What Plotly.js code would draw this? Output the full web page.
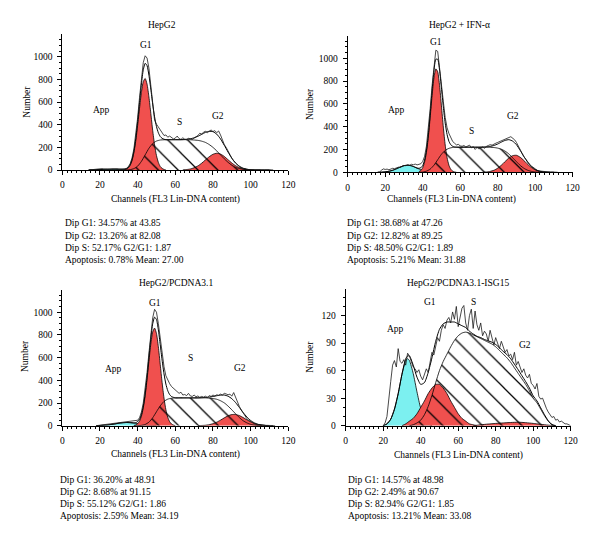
<!DOCTYPE html>
<html><head><meta charset="utf-8">
<script src="https://cdn.plot.ly/plotly-3.0.1.min.js"></script>
<style>html,body{margin:0;padding:0;background:#fff}#chart{width:600px;height:543px}</style>
</head><body><div id="chart"></div>
<script>
// ---------- text ----------
const panelTitles = ['HepG2', 'HepG2 + IFN-\u03b1', 'HepG2/PCDNA3.1', 'HepG2/PCDNA3.1-ISG15'];
const xAxisTitle = 'Channels (FL3 Lin-DNA content)';
const yAxisTitle = 'Number';
const phaseLabels = ['G1', 'App', 'S', 'G2'];
const stats1 = ['Dip G1: 34.57% at 43.85', 'Dip G2: 13.26% at 82.08', 'Dip S: 52.17% G2/G1: 1.87', 'Apoptosis: 0.78% Mean: 27.00'];
const stats2 = ['Dip G1: 38.68% at 47.26', 'Dip G2: 12.82% at 89.25', 'Dip S: 48.50% G2/G1: 1.89', 'Apoptosis: 5.21% Mean: 31.88'];
const stats3 = ['Dip G1: 36.20% at 48.91', 'Dip G2: 8.68% at 91.15', 'Dip S: 55.12% G2/G1: 1.86', 'Apoptosis: 2.59% Mean: 34.19'];
const stats4 = ['Dip G1: 14.57% at 48.98', 'Dip G2: 2.49% at 90.67', 'Dip S: 82.94% G2/G1: 1.85', 'Apoptosis: 13.21% Mean: 33.08'];

// ---------- panel 1: HepG2 ----------
const p1AppX = [14,16,18,20,22,24,26,28,30,32,34,36,38,40,42];
const p1AppY = [0,1.5,3,4,6,7,8,8,7,6,4,3,2,1,0];
const p1G1X = [33,34,35,36,37,38,39,40,41,42,43,44,45,46,47,48,49,50,51,52,53,54,55];
const p1G1Y = [3,7,18,40,82,152,256,394,545,685,782,809,759,646,500,349,222,128,67,31,14,5,0];
const p1SX = [34,36,38,40,42,44,46,48,50,52,54,56,58,60,62,64,66,68,70,72,74,76,78,80,82,84,86,88,90,92,94,96,98,100];
const p1SY = [0,3,12,34,76,134,192,234,256,265,267,268,268,268,268,268,268,267,265,262,255,244,225,200,169,134,99,68,43,24,13,6,3,0];
const p1G2X = [64,66,68,70,72,74,76,78,80,82,84,86,88,90,92,94,96,98,100,102];
const p1G2Y = [1,4,9,20,36,60,89,117,139,148,141,120,91,62,38,21,10,4,2,0];
const p1FitX = [14,16,18,20,22,24,26,28,30,32,33,34,35,36,37,38,39,40,41,42,43,44,45,46,47,48,49,50,51,52,53,54,55,56,58,60,62,64,66,68,70,72,74,76,78,80,82,84,86,88,90,92,94,96,98,100,102,106,110];
const p1FitY = [0,1.5,3,4,6,7,8,8,7,6,8,12,22,46,90,166,277,429,597,761,886,943,923,838,715,583,470,384,329,296,280,272,268,268,268,268,268,269,272,276,285,298,315,333,342,339,317,275,219,159,105,62,34,16,7,2,0,0,0];
const p1RawStart = 14;
const p1RawY = [0,2,3,5,8,12,15,12,8,5,6,4,5,7,6,8,6,5,7,9,14,28,55,105,185,300,460,640,810,950,1010,990,900,740,560,440,405,380,345,325,305,310,290,300,285,275,282,300,278,270,285,272,268,280,275,270,282,290,305,325,318,335,342,330,345,354,340,348,330,345,310,260,225,200,165,130,104,80,60,42,29,18,12,8,6,4,5,3,4,6,3,4,2,3,2,3,1,2,0];

// ---------- panel 2: HepG2 + IFN-a ----------
const p2AppX = [16,18,20,22,24,26,28,30,32,34,36,38,40,42,44,46,48];
const p2AppY = [0,1,4,9,18,31,46,58,62,57,44,29,17,8,3,1,0];
const p2G1X = [38,39,40,41,42,43,44,45,46,47,48,49,50,51,52,53,54,55,56,57,58];
const p2G1Y = [6,16,40,89,176,309,484,672,828,906,881,760,582,396,239,128,61,26,10,3,0];
const p2SX = [38,40,42,44,46,48,50,52,54,56,58,60,62,64,66,68,70,72,74,76,78,80,82,84,86,88,90,92,94,96,98,100,102,104];
const p2SY = [0,2,10,28,62,110,158,192,210,218,220,220,220,220,220,220,220,220,220,219,217,212,202,185,160,127,93,60,35,18,8,3,1,0];
const p2G2X = [72,74,76,78,80,82,84,86,88,90,92,94,96,98,100,102,104,106,108];
const p2G2Y = [1,3,8,18,36,63,95,126,146,149,132,103,70,42,22,10,4,1,0];
const p2FitX = [16,18,20,22,24,26,28,30,32,34,36,37,38,39,40,41,42,43,44,45,46,47,48,49,50,51,52,53,54,55,56,57,58,60,62,64,66,68,70,72,74,76,78,80,82,84,86,88,90,92,94,96,98,100,102,104,106,108,110];
const p2FitY = [0,1,4,9,18,31,46,58,62,57,44,37,35,40,59,106,194,331,515,717,891,991,991,895,740,573,431,331,271,241,228,222,220,220,220,220,220,220,220,221,223,227,235,248,265,280,286,273,242,192,138,88,50,25,11,4,1,0,0];
const p2RawStart = 16;
const p2RawY = [0,2,18,30,25,28,22,30,35,32,40,45,42,55,60,58,65,62,70,66,72,65,70,75,95,140,230,370,560,760,930,1070,1060,930,770,620,480,390,340,305,270,255,240,245,232,228,235,222,230,238,215,225,200,218,205,215,222,210,228,235,242,238,250,255,262,270,275,288,292,300,305,312,300,285,262,230,195,160,135,115,90,70,55,40,25,18,12,10,6,5,4,3,2,3,1,2,0];

// ---------- panel 3: HepG2/PCDNA3.1 ----------
const p3AppX = [18,20,22,24,26,28,30,32,34,36,38,40,42,44,46,48,50];
const p3AppY = [0,2,4,7,11,16,22,26,28,27,23,18,12,7,4,2,0];
const p3G1X = [38,39,40,41,42,43,44,45,46,47,48,49,50,51,52,53,54,55,56,57,58,59,60];
const p3G1Y = [2,7,18,40,83,157,265,408,569,720,826,860,812,695,539,380,243,141,74,35,15,6,0];
const p3SX = [38,40,42,44,46,48,50,52,54,56,58,60,62,64,66,68,70,72,74,76,78,80,82,84,86,88,90,92,94,96,98,100,102,104,106];
const p3SY = [0,0,3,11,31,70,123,175,214,234,242,245,245,245,245,245,245,245,245,245,243,239,233,220,201,173,140,105,72,44,25,12,6,2,0];
const p3G2X = [72,74,76,78,80,82,84,86,88,90,92,94,96,98,100,102,104,106,108,110];
const p3G2Y = [0,2,4,9,18,31,49,69,87,98,99,89,72,52,34,19,10,5,2,0];
const p3FitX = [18,20,22,24,26,28,30,32,34,36,38,39,40,41,42,43,44,45,46,47,48,49,50,51,52,53,54,55,56,57,58,59,60,62,64,66,68,70,72,74,76,78,80,82,84,86,88,90,92,94,96,98,100,102,104,106,108,110,112];
const p3FitY = [0,2,4,7,11,16,22,26,28,27,25,27,36,56,98,172,283,432,604,771,898,956,935,845,714,577,457,367,308,274,257,250,245,245,245,245,245,245,245,247,249,252,257,264,269,270,260,238,204,161,116,77,46,25,12,5,2,0,0];
const p3RawStart = 18;
const p3RawY = [0,2,4,6,10,12,14,16,18,20,22,25,28,30,32,34,36,36,38,38,40,42,48,70,120,200,320,470,640,810,950,1025,1000,900,760,620,520,440,400,370,345,330,310,300,285,295,270,275,265,285,262,258,270,255,262,250,258,252,260,248,265,258,270,262,272,268,278,270,285,280,272,278,260,292,250,205,170,140,112,85,62,48,36,26,18,12,9,6,5,4,3,3,2,2,1,0];

// ---------- panel 4: HepG2/PCDNA3.1-ISG15 ----------
const p4AppX = [20,22,24,26,28,30,32,33,34,36,38,40,42,44,46];
const p4AppY = [0,2,7,18,35,56,71,73,71,57,37,19,8,2,0];
const p4G1X = [30,32,34,36,38,40,42,44,46,48,50,52,54,56,58,60,62,64,66,68,70];
const p4G1Y = [0,2,5,8,13,20,27,35,41,45,45,41,35,27,20,13,8,5,2,1,0];
const p4SX = [34,36,38,40,42,44,46,48,50,52,54,56,58,60,62,64,66,68,70,72,74,76,78,80,82,84,86,88,90,92,94,96,98,100,102,104,106,108,110,112];
const p4SY = [0,1,3,6,12,21,33,47,60,70,78,86,93,98,101,102,101,99,97,95,93,91,89,86,82,78,74,69,63,57,51,45,38,30,25,18,11,5,1,0];
const p4G2X = [68,72,76,80,84,88,92,96,100,104,108,112];
const p4G2Y = [0,1,1.8,2.5,3,3.5,3.8,3.3,2.5,1.5,0.6,0];
const p4FitX = [20,22,24,26,28,30,32,33,34,36,38,40,42,44,46,48,50,52,54,56,58,60,62,64,66,68,70,72,74,76,78,80,82,84,86,88,90,92,94,96,98,100,102,104,106,108,110,112];
const p4FitY = [0,2,7,18,35,56,73,76,76,66,53,45,47,58,74,92,105,111,113,113,113,111,109,107,103,100,97.5,96,94,92.5,91,88.5,85,81,77.5,73,67,61,54.5,48,41,32.5,27,19.5,12,5.5,1.3,0];
const p4RawStart = 20;
const p4RawY = [0,3,10,26,48,66,71,64,84,70,68,72,66,79,76,70,64,62,58,61,54,50,57,62,58,70,80,77,88,96,92,104,110,106,115,118,112,124,116,130,108,118,128,131,112,104,120,127,106,125,110,104,112,98,103,100,92,104,94,88,96,90,84,92,86,80,83,76,78,72,80,66,70,64,58,62,55,52,56,46,44,40,46,32,29,30,24,19,15,12,9,10,6,7,4,5,3,2,2,1,0];

// ---------- axis ticks ----------
const xTickStep = 20;
const yTickStepBig = 200;
const yTickStepSmall = 30;

// ---------- styling ----------
const FONT = '"Liberation Serif","Times New Roman",serif';
const FS = 9.5;
const RED = 'rgb(240,80,78)';
const CYAN = 'rgb(124,240,240)';

function channels(start, n) { const a = []; for (let i = 0; i < n; i++) a.push(start + i); return a; }

const panels = [
  {appX:p1AppX, appY:p1AppY, g1X:p1G1X, g1Y:p1G1Y, sX:p1SX, sY:p1SY, g2X:p1G2X, g2Y:p1G2Y, fitX:p1FitX, fitY:p1FitY, rawX:channels(p1RawStart, p1RawY.length), rawY:p1RawY},
  {appX:p2AppX, appY:p2AppY, g1X:p2G1X, g1Y:p2G1Y, sX:p2SX, sY:p2SY, g2X:p2G2X, g2Y:p2G2Y, fitX:p2FitX, fitY:p2FitY, rawX:channels(p2RawStart, p2RawY.length), rawY:p2RawY},
  {appX:p3AppX, appY:p3AppY, g1X:p3G1X, g1Y:p3G1Y, sX:p3SX, sY:p3SY, g2X:p3G2X, g2Y:p3G2Y, fitX:p3FitX, fitY:p3FitY, rawX:channels(p3RawStart, p3RawY.length), rawY:p3RawY},
  {appX:p4AppX, appY:p4AppY, g1X:p4G1X, g1Y:p4G1Y, sX:p4SX, sY:p4SY, g2X:p4G2X, g2Y:p4G2Y, fitX:p4FitX, fitY:p4FitY, rawX:channels(p4RawStart, p4RawY.length), rawY:p4RawY}
];

const data = [];
panels.forEach((p, i) => {
  const xa = i === 0 ? 'x' : 'x' + (i + 1);
  const ya = i === 0 ? 'y' : 'y' + (i + 1);
  const comp = (x, y, fc) => ({type:'scatter', mode:'lines', x:x, y:y, xaxis:xa, yaxis:ya, fill:'tozeroy', fillcolor:fc,
    line:{color:'black', width:0.8, shape:'spline', smoothing:0.6}, hoverinfo:'skip'});
  data.push(comp(p.appX, p.appY, CYAN));
  data.push(comp(p.g1X, p.g1Y, RED));
  data.push(comp(p.g2X, p.g2Y, RED));
  const s = comp(p.sX, p.sY, 'white');
  s.fillpattern = {shape:'\\', size:14, solidity:0.09, fgcolor:'black', fillmode:'replace'};
  data.push(s);
  data.push({type:'scatter', mode:'lines', x:p.fitX, y:p.fitY, xaxis:xa, yaxis:ya, line:{color:'black', width:1, shape:'spline', smoothing:0.6}, hoverinfo:'skip'});
  data.push({type:'scatter', mode:'lines', x:p.rawX, y:p.rawY, xaxis:xa, yaxis:ya, line:{color:'#1a1a1a', width:0.8}, hoverinfo:'skip'});
});

function xAx(domain, anchor) {
  return {domain:domain, anchor:anchor, range:[0,120], showline:true, linecolor:'black', linewidth:1,
    ticks:'outside', ticklen:4, tickwidth:1, tickcolor:'black', tickmode:'linear', tick0:0, dtick:xTickStep,
    showgrid:false, zeroline:false, ticklabelstandoff:2, tickfont:{family:FONT, size:FS, color:'black'},
    minor:{tickmode:'linear', tick0:0, dtick:2.5, ticks:'outside', ticklen:2, tickwidth:1, tickcolor:'black', showgrid:false},
    fixedrange:true};
}
function yAx(domain, anchor, top, step, minorStep) {
  return {domain:domain, anchor:anchor, range:[0,top], showline:true, linecolor:'black', linewidth:1,
    ticks:'outside', ticklen:4, tickwidth:1, tickcolor:'black', tickmode:'linear', tick0:0, dtick:step,
    showgrid:false, zeroline:false, ticklabelstandoff:3, tickfont:{family:FONT, size:FS, color:'black'},
    minor:{tickmode:'linear', tick0:0, dtick:minorStep, ticks:'outside', ticklen:2, tickwidth:1, tickcolor:'black', showgrid:false},
    fixedrange:true};
}

const W = 600, H = 543;
const px = v => v / W, py = v => 1 - v / H;

const annotations = [];
function addText(text, x, y, opts) {
  annotations.push(Object.assign({text:text, x:x, y:y, xref:'paper', yref:'paper', showarrow:false,
    xanchor:'center', yanchor:'middle', font:{family:FONT, size:FS, color:'black'}}, opts || {}));
}
const titlePos = [[161.7,25.3],[459,25],[175.8,283.3],[458,282.7]];
panelTitles.forEach((t, i) => addText(t, px(titlePos[i][0]), py(titlePos[i][1])));
const xTitlePos = [[175,200],[451.7,200],[175.3,454.5],[458.5,455]];
xTitlePos.forEach(p => addText(xAxisTitle, px(p[0]), py(p[1])));
const yTitlePos = [[26.7,102],[310,104],[25,356],[310,356.7]];
yTitlePos.forEach(p => addText(yAxisTitle, px(p[0]), py(p[1]), {textangle:-90}));
const statsBlocks = [[stats1, 63.3, [223.3,235.6,248,260.3]], [stats2, 345, [223.3,235.6,248,260.3]],
                     [stats3, 58.3, [480,492,504,516]], [stats4, 345.7, [480,492,504,516]]];
statsBlocks.forEach(b => b[0].forEach((line, j) => addText(line, px(b[1]), py(b[2][j]), {xanchor:'left'})));
const labelPos = [
  [[44.3,1106],[20.9,531],[62,427],[82.8,480]],
  [[47.1,1140],[26.1,546],[66.1,362],[88,496]],
  [[49.2,1085],[27.1,497],[68.3,594],[94.4,506]],
  [[45,135],[26.3,105.7],[68,135],[95.6,88.5]]
];
labelPos.forEach((lp, i) => {
  const xr = i === 0 ? 'x' : 'x' + (i + 1), yr = i === 0 ? 'y' : 'y' + (i + 1);
  lp.forEach((pos, j) => annotations.push({text:phaseLabels[j], x:pos[0], y:pos[1], xref:xr, yref:yr, showarrow:false,
    xanchor:'center', yanchor:'middle', font:{family:FONT, size:FS, color:'black'}}));
});

const layout = {
  width:W, height:H, margin:{l:0, r:0, t:0, b:0}, showlegend:false,
  paper_bgcolor:'white', plot_bgcolor:'rgba(0,0,0,0)',
  font:{family:FONT, size:FS, color:'black'},
  xaxis: xAx([px(62.3), px(288.3)], 'y'),
  yaxis: yAx([py(170), py(34.4)], 'x', 1199, yTickStepBig, 50),
  xaxis2: xAx([px(347.7), px(572.7)], 'y2'),
  yaxis2: yAx([py(172.3), py(35.5)], 'x2', 1199, yTickStepBig, 50),
  xaxis3: xAx([px(62.3), px(288.3)], 'y3'),
  yaxis3: yAx([py(425.7), py(289.6)], 'x3', 1199, yTickStepBig, 50),
  xaxis4: xAx([px(345.7), px(570.7)], 'y4'),
  yaxis4: yAx([py(425.7), py(289)], 'x4', 149, yTickStepSmall, 10),
  annotations:annotations
};

Plotly.newPlot('chart', data, layout, {displayModeBar:false, staticPlot:true});
</script>
</body></html>
